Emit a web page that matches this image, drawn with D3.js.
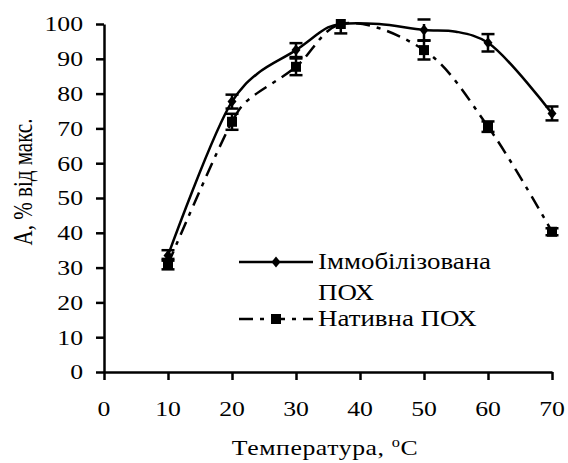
<!DOCTYPE html>
<html><head><meta charset="utf-8">
<script src="https://cdn.jsdelivr.net/npm/d3@7"></script>
<style>
body{margin:0;background:#fff}
svg{display:block}
</style>
</head><body><div id="chart"></div>
<script>
// ---- data ----
const xTicks = [0, 10, 20, 30, 40, 50, 60, 70];
const yTicks = [0, 10, 20, 30, 40, 50, 60, 70, 80, 90, 100];

// Immobilized POX: line vertices; error (null = unmarked vertex)
const immobT   = [10,   20,   24,   30,   35,  37,  43,  50,   55,   60,   70];
const immobA   = [33.5, 77.7, 85.8, 92.5, 99,  100, 100, 98.3, 97.8, 94.6, 74.3];
const immobErr = [1.5,  2,    null, 2,    null,null,null,3,    null, 2.5,  2];

// Native POX
const nativeT   = [10, 20,   22,   30,   37,  50,   60,   70];
const nativeA   = [31, 71.9, 77.3, 87.7, 100, 92.5, 70.5, 40.3];
const nativeErr = [1.5,2.3,  null, 2.4,  2.7, 2.7,  1.5,  1];

const legendImmob  = ["Іммобілізована", "ПОХ"];
const legendNative = ["Нативна ПОХ"];
const xTitle = "Температура, ";
const yTitle = "А, % від макс.";

// ---- layout ----
const W = 568, H = 463, SX = 1.17;
const FONT = "'Liberation Serif', 'Times New Roman', Times, serif";
const svg = d3.select("#chart").append("svg").attr("width", W).attr("height", H)
  .attr("font-family", FONT);

const x = d3.scaleLinear().domain([0, 70]).range([104, 552]);
const y = d3.scaleLinear().domain([0, 100]).range([372, 24]);

// axes
svg.append("g").attr("transform", `translate(0,${y(0)})`)
  .call(d3.axisBottom(x).tickValues(xTicks).tickSize(8).tickSizeOuter(0).tickFormat(""));
svg.append("g").attr("transform", `translate(${x(0)},0)`)
  .call(d3.axisLeft(y).tickValues(yTicks).tickSize(8).tickSizeOuter(0).tickFormat(""));
svg.selectAll(".domain, .tick line").attr("stroke", "#000").attr("stroke-width", 2.5);

function txt(sel) { return sel.attr("font-family", FONT).attr("fill", "#000"); }

// tick labels
txt(svg.append("g").selectAll("text").data(yTicks).join("text"))
  .attr("transform", d => `translate(83,${y(d)}) scale(${SX},1)`)
  .attr("text-anchor", "end").attr("dy", "0.34em")
  .attr("font-size", 22).text(d => d);
txt(svg.append("g").selectAll("text").data(xTicks).join("text"))
  .attr("transform", d => `translate(${x(d)},416) scale(${SX},1)`)
  .attr("text-anchor", "middle")
  .attr("font-size", 22).text(d => d);

// axis titles
const xt = txt(svg.append("text"))
  .attr("transform", `translate(325,455) scale(${SX},1)`)
  .attr("text-anchor", "middle").attr("font-size", 22).attr("letter-spacing", 0.5);
xt.append("tspan").text(xTitle);
xt.append("tspan").attr("dy", "-8").attr("font-size", 14).text("o");
xt.append("tspan").attr("dy", "8").text("С");

txt(svg.append("text"))
  .attr("transform", `translate(32,182) rotate(-90) scale(1,1.25)`)
  .attr("text-anchor", "middle").attr("font-size", 21).text(yTitle);

// lines
const line = d3.line().x(d => x(d[0])).y(d => y(d[1])).curve(d3.curveCatmullRom.alpha(0.5));
const immobPts = immobT.map((t, i) => [t, immobA[i], immobErr[i]]);
const nativePts = nativeT.map((t, i) => [t, nativeA[i], nativeErr[i]]);
const DASH = "14,7,4,7";

svg.append("path").attr("d", line(immobPts)).attr("fill", "none")
  .attr("stroke", "#000").attr("stroke-width", 2.5);
svg.append("path").attr("d", line(nativePts)).attr("fill", "none")
  .attr("stroke", "#000").attr("stroke-width", 2.5).attr("stroke-dasharray", DASH);

// error bars (upper part clipped at the axis maximum)
function errBars(pts) {
  const g = svg.append("g").attr("stroke", "#000").attr("stroke-width", 2.5);
  pts.filter(p => p[2] != null).forEach(p => {
    const cx = x(p[0]), hi = p[1] + p[2], lo = p[1] - p[2];
    g.append("line").attr("x1", cx).attr("x2", cx).attr("y1", y(Math.min(100, hi))).attr("y2", y(lo));
    if (p[1] < 100)
      g.append("line").attr("x1", cx - 6.5).attr("x2", cx + 6.5).attr("y1", y(hi)).attr("y2", y(hi));
    g.append("line").attr("x1", cx - 6.5).attr("x2", cx + 6.5).attr("y1", y(lo)).attr("y2", y(lo));
  });
}
errBars(immobPts);
errBars(nativePts);

// markers
const diamond = "M0,-5.5L4.5,0L0,5.5L-4.5,0Z";
svg.append("g").selectAll("path").data(immobPts.filter(p => p[2] != null)).join("path")
  .attr("d", diamond).attr("transform", d => `translate(${x(d[0])},${y(d[1])})`).attr("fill", "#000");
svg.append("g").selectAll("rect").data(nativePts.filter(p => p[2] != null)).join("rect")
  .attr("x", d => x(d[0]) - 5).attr("y", d => y(d[1]) - 5).attr("width", 10).attr("height", 10).attr("fill", "#000");

// legend
const lg = svg.append("g");
lg.append("line").attr("x1", 239).attr("x2", 313).attr("y1", 262).attr("y2", 262)
  .attr("stroke", "#000").attr("stroke-width", 2.5);
lg.append("path").attr("d", diamond).attr("transform", "translate(276,262)").attr("fill", "#000");
lg.append("line").attr("x1", 239).attr("x2", 313).attr("y1", 319).attr("y2", 319)
  .attr("stroke", "#000").attr("stroke-width", 2.5).attr("stroke-dasharray", DASH);
lg.append("rect").attr("x", 271).attr("y", 314).attr("width", 10).attr("height", 10).attr("fill", "#000");
legendImmob.forEach((s, i) => {
  txt(lg.append("text")).attr("transform", `translate(318,${269 + i * 31}) scale(${SX},1)`)
    .attr("font-size", 23).text(s);
});
legendNative.forEach((s, i) => {
  txt(lg.append("text")).attr("transform", `translate(318,${326 + i * 31}) scale(${SX},1)`)
    .attr("font-size", 23).text(s);
});
</script>
</body></html>
